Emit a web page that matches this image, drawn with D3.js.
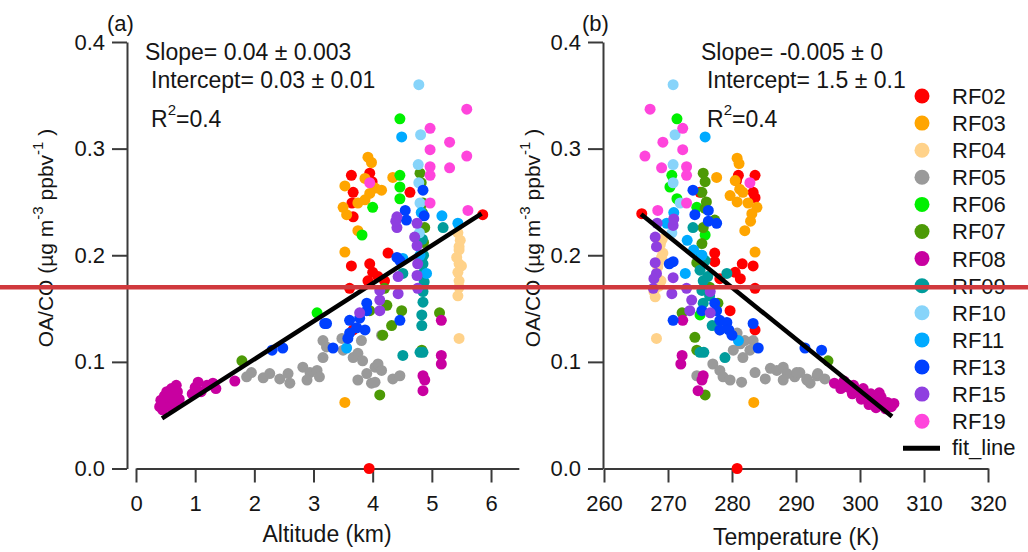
<!DOCTYPE html>
<html>
<head>
<meta charset="utf-8">
<script src="https://cdn.jsdelivr.net/npm/d3@7"></script>
<style>
  body { margin: 0; background: #fff; }
  svg { font-family: "Liberation Sans", Arial, sans-serif; }
</style>
</head>
<body>
<div id="graf"></div>
<script>
// flights and their colours
const flights = ["RF02", "RF03", "RF04", "RF05", "RF06", "RF07", "RF08", "RF09", "RF10", "RF11", "RF13", "RF15", "RF19"];
const flightColors = ["#ff0000", "#ffa500", "#ffd28a", "#9a9a9a", "#00f000", "#4c9a06", "#c800a0", "#009c9c", "#87d4fa", "#00aaff", "#0040ff", "#8f3fe0", "#ff45dc"];

// panel (a): [altitude km, OA/CO]
const RF02_alt = [[3.64,0.275],[3.95,0.277],[3.67,0.259],[3.65,0.249],[3.67,0.236],[3.99,0.269],[4.63,0.259],[4.26,0.202],[5.86,0.238],[3.64,0.19],[3.95,0.192],[4.0,0.184],[4.09,0.18],[3.92,0.176],[4.2,0.176],[3.61,0.169],[3.67,0.13],[3.94,0.0]];
const RF03_alt = [[3.92,0.292],[3.98,0.287],[3.87,0.272],[3.53,0.265],[4.04,0.263],[4.15,0.261],[3.95,0.258],[3.5,0.245],[3.75,0.249],[3.87,0.252],[3.56,0.238],[3.75,0.223],[4.34,0.273],[3.53,0.203],[3.53,0.062]];
const RF04_alt = [[5.46,0.205],[5.46,0.192],[5.5,0.19],[5.44,0.184],[5.46,0.176],[5.46,0.17],[5.44,0.162],[5.46,0.122],[5.44,0.221],[5.46,0.208],[5.48,0.214],[5.42,0.198]];
const RF05_alt = [[1.87,0.086],[1.95,0.09],[2.15,0.085],[2.26,0.089],[2.43,0.084],[2.57,0.089],[2.6,0.08],[2.82,0.095],[2.94,0.09],[2.89,0.083],[3.06,0.092],[3.1,0.086],[3.16,0.104],[3.16,0.12],[3.22,0.114],[3.48,0.122],[3.5,0.111],[3.67,0.104],[3.75,0.108],[3.81,0.12],[3.83,0.101],[3.75,0.083],[3.9,0.089],[3.98,0.08],[4.04,0.095],[4.09,0.098],[4.15,0.092],[4.15,0.125],[4.34,0.084],[4.46,0.087],[4.04,0.081]];
const RF06_alt = [[4.46,0.328],[4.46,0.275],[4.46,0.264],[4.46,0.253],[4.0,0.245],[3.82,0.219],[3.06,0.146]];
const RF07_alt = [[4.8,0.277],[4.82,0.268],[4.85,0.249],[4.88,0.226],[4.86,0.212],[4.2,0.169],[4.24,0.153],[3.95,0.148],[4.49,0.148],[4.32,0.134],[4.17,0.125],[5.13,0.146],[4.12,0.069],[4.83,0.111],[1.79,0.101],[4.84,0.24]];
const RF08_alt = [[0.40,0.058],[0.42,0.064],[0.45,0.055],[0.48,0.068],[0.5,0.061],[0.52,0.072],[0.55,0.066],[0.57,0.058],[0.6,0.075],[0.62,0.069],[0.65,0.062],[0.68,0.078],[0.7,0.072],[0.73,0.065],[0.95,0.07],[1.0,0.076],[1.05,0.081],[1.1,0.072],[1.2,0.078],[1.3,0.08],[1.35,0.075],[1.67,0.082],[5.16,0.139],[5.16,0.106],[5.16,0.098],[4.85,0.087],[4.88,0.083],[4.85,0.073]];
const RF09_alt = [[4.85,0.192],[4.85,0.183],[4.87,0.175],[4.85,0.166],[4.85,0.156],[4.83,0.144],[4.83,0.134],[4.51,0.183],[4.51,0.106],[4.8,0.109],[4.85,0.109],[5.19,0.226],[4.86,0.2],[4.84,0.215]];
const RF10_alt = [[4.78,0.36],[4.81,0.313],[4.77,0.285],[4.78,0.268],[4.8,0.249],[4.79,0.221]];
const RF11_alt = [[4.49,0.311],[5.17,0.237],[5.44,0.23],[4.51,0.197],[4.91,0.183],[3.56,0.113],[4.82,0.24],[4.8,0.2]];
const RF13_alt = [[4.85,0.261],[4.87,0.237],[4.55,0.242],[4.57,0.233],[4.41,0.198],[4.46,0.195],[3.9,0.155],[3.9,0.148],[3.78,0.141],[3.61,0.139],[3.73,0.132],[3.87,0.13],[3.61,0.127],[3.58,0.122],[3.33,0.113],[3.22,0.136],[4.46,0.139],[2.3,0.111],[2.48,0.113],[3.19,0.136]];
const RF15_alt = [[4.41,0.236],[4.41,0.226],[4.75,0.23],[4.71,0.217],[4.75,0.209],[4.39,0.232],[4.76,0.192],[4.75,0.181],[4.76,0.169],[4.43,0.18],[4.43,0.164],[4.12,0.167],[4.12,0.158],[4.12,0.148],[3.78,0.146]];
const RF19_alt = [[5.59,0.337],[4.97,0.319],[5.3,0.306],[4.97,0.299],[5.59,0.293],[4.97,0.283],[5.3,0.282],[4.97,0.275],[3.95,0.268],[4.97,0.249],[5.61,0.242]];

// panel (b): [temperature K, OA/CO]
const RF02_temp = [[265.9,0.239],[281,0.275],[283.6,0.275],[283.3,0.259],[283.6,0.254],[280.7,0.27],[277.3,0.202],[275,0.259],[277.3,0.194],[281.6,0.192],[283.3,0.19],[280.5,0.184],[281.3,0.178],[278.1,0.178],[283.6,0.169],[279.7,0.148],[283.6,0.13],[280.8,0.0]];
const RF03_temp = [[280.8,0.291],[281.1,0.286],[280.5,0.27],[279.7,0.256],[280.8,0.25],[281.7,0.259],[282.5,0.249],[283.9,0.245],[282,0.223],[283.6,0.203],[277.6,0.273],[283.1,0.239],[283.4,0.062],[281.2,0.262],[282.9,0.232]];
const RF04_temp = [[269,0.198],[268.4,0.189],[268.2,0.18],[268.6,0.171],[268,0.161],[268.2,0.122],[269.2,0.202],[268.8,0.21],[268.5,0.193],[268.9,0.176],[267.8,0.166],[269.1,0.215]];
const RF05_temp = [[274.5,0.087],[277,0.098],[278.1,0.092],[278.6,0.086],[278.1,0.13],[280.2,0.111],[280.8,0.127],[281.3,0.117],[282,0.12],[282.8,0.111],[283.3,0.12],[281.7,0.104],[279.7,0.083],[281.5,0.081],[283.6,0.09],[285.2,0.084],[286,0.094],[287,0.092],[288,0.095],[288.6,0.089],[289.8,0.086],[290.6,0.09],[291.7,0.084],[292.2,0.08],[293.3,0.087],[290.1,0.09],[291.7,0.083],[293.4,0.089],[294.5,0.084],[288,0.083]];
const RF06_temp = [[271.4,0.328],[270.6,0.275],[270.3,0.264],[271.4,0.253],[274.5,0.245],[275.8,0.219],[275,0.144]];
const RF07_temp = [[275.5,0.277],[275.8,0.269],[275.3,0.259],[275.8,0.244],[277.3,0.233],[275.3,0.211],[272.2,0.146],[274.2,0.123],[274.5,0.111],[275.8,0.069],[274.5,0.193],[295,0.101],[276.5,0.17],[277.8,0.155],[275.5,0.226],[276,0.25]];
const RF08_temp = [[296,0.08],[297.5,0.082],[298.2,0.076],[299,0.078],[299.8,0.072],[300.5,0.075],[301,0.068],[301.7,0.07],[302.2,0.066],[302.8,0.063],[303.3,0.067],[303.8,0.06],[304.3,0.062],[304.9,0.058],[305.3,0.061],[300.2,0.065],[301.4,0.06],[302.5,0.057],[303,0.071],[298.8,0.07],[297,0.075],[304,0.056],[272.3,0.139],[272.2,0.106],[272,0.098],[275.5,0.087],[275.3,0.083],[274.7,0.073]];
const RF09_temp = [[275,0.186],[275.5,0.176],[275.3,0.167],[275.5,0.155],[276.9,0.134],[278.9,0.104],[275,0.109],[275.6,0.109],[279.2,0.183],[273.9,0.226],[275.8,0.195],[276.2,0.18],[275.2,0.2],[276.5,0.162]];
const RF10_temp = [[270.8,0.36],[271.1,0.313],[270.8,0.285],[270.8,0.268],[271.9,0.249],[270.6,0.221]];
const RF11_temp = [[275.8,0.311],[273,0.214],[275.3,0.2],[272.7,0.183],[281,0.12],[270.9,0.24],[269.8,0.23],[274,0.205]];
const RF13_temp = [[273.9,0.261],[276.3,0.242],[274.2,0.238],[277.6,0.23],[270.8,0.194],[270.2,0.192],[277.3,0.155],[277.6,0.148],[278.1,0.139],[279.2,0.137],[278.1,0.13],[280,0.125],[275.3,0.148],[270.8,0.139],[283.3,0.136],[284.1,0.113],[291.4,0.113],[294,0.111],[276.3,0.232],[279.5,0.13]];
const RF15_temp = [[268.3,0.23],[270.8,0.228],[268,0.217],[268.2,0.208],[270.9,0.234],[268,0.193],[268.2,0.183],[267.8,0.178],[267.7,0.169],[270.8,0.179],[270.6,0.164],[273.7,0.158],[273.4,0.148],[276.6,0.146],[272.9,0.169],[276.6,0.166]];
const RF19_temp = [[267.2,0.337],[272.3,0.319],[269.2,0.306],[272.3,0.299],[266.4,0.293],[269,0.282],[272.9,0.283],[272.9,0.275],[282.8,0.268],[272.9,0.249],[268.4,0.242]];

const altSeries = [RF02_alt, RF03_alt, RF04_alt, RF05_alt, RF06_alt, RF07_alt, RF08_alt, RF09_alt, RF10_alt, RF11_alt, RF13_alt, RF15_alt, RF19_alt];
const tempSeries = [RF02_temp, RF03_temp, RF04_temp, RF05_temp, RF06_temp, RF07_temp, RF08_temp, RF09_temp, RF10_temp, RF11_temp, RF13_temp, RF15_temp, RF19_temp];

// fit line end points
const fitAltX = [0.44, 5.84];
const fitAltY = [0.047, 0.239];
const fitTempX = [265.8, 305.0];
const fitTempY = [0.2385, 0.0488];

// ticks
const yTicks = [0, 0.1, 0.2, 0.3, 0.4];
const altTicks = [0, 1, 2, 3, 4, 5, 6];
const tempTicks = [260, 270, 280, 290, 300, 310, 320];

const altStats = ["Slope= 0.04 \u00b1 0.003", "Intercept= 0.03 \u00b1 0.01"];
const tempStats = ["Slope= -0.005 \u00b1 0", "Intercept= 1.5 \u00b1 0.1"];

const refLevel = 0.17;

const ancho_total = 1028;
const alto_total = 552;
const txt = "#151515";
const ejes = "#3a3a3a";

const svg = d3.select("#graf")
  .append("svg")
  .attr("width", ancho_total)
  .attr("height", alto_total);

const y = d3.scaleLinear().domain([0, 0.4]).range([468.5, 42]);

function panel(cfg) {
  const x = d3.scaleLinear().domain(cfg.xDomain).range(cfg.xRange);

  const gx = svg.append("g")
    .attr("transform", `translate(0, ${y(0)})`)
    .call(d3.axisBottom(x).tickValues(cfg.xTicks).tickSize(14).tickSizeOuter(0).tickPadding(13).tickFormat(d3.format("d")));
  const gy = svg.append("g")
    .attr("transform", `translate(${cfg.yAxisX}, 0)`)
    .call(d3.axisLeft(y).tickValues(yTicks).tickSize(15).tickSizeOuter(0).tickPadding(7).tickFormat(d3.format(".1f")));

  [gx, gy].forEach((g) => {
    g.attr("font-size", null).attr("font-family", null).style("color", ejes);
    g.selectAll("path, line").attr("stroke-width", 2);
    g.selectAll("text").style("font-size", "22px").style("fill", txt);
  });

  // dots
  cfg.series.forEach((pts, i) => {
    svg.append("g")
      .selectAll("circle")
      .data(pts)
      .enter()
      .append("circle")
      .attr("class", "dot " + flights[i])
      .attr("cx", (d) => x(d[0]))
      .attr("cy", (d) => y(d[1]))
      .attr("r", 5.5)
      .style("fill", flightColors[i]);
  });

  // fit line
  svg.append("line")
    .attr("x1", x(cfg.fitX[0])).attr("y1", y(cfg.fitY[0]))
    .attr("x2", x(cfg.fitX[1])).attr("y2", y(cfg.fitY[1]))
    .attr("stroke", "#000")
    .attr("stroke-width", 4.5);

  // labels
  svg.append("text")
    .attr("x", cfg.tagX).attr("y", 31)
    .style("font-size", "22px").style("fill", txt)
    .text(cfg.tag);

  svg.append("text")
    .attr("x", cfg.statX).attr("y", 60)
    .style("font-size", "23px").style("fill", txt)
    .text(cfg.stats[0]);
  svg.append("text")
    .attr("x", cfg.statX + 6).attr("y", 88)
    .style("font-size", "23px").style("fill", txt)
    .text(cfg.stats[1]);
  const r2 = svg.append("text")
    .attr("x", cfg.statX + 6).attr("y", 127)
    .style("font-size", "23px").style("fill", txt);
  r2.append("tspan").text("R");
  r2.append("tspan").attr("dy", -12).style("font-size", "15px").text("2");
  r2.append("tspan").attr("dy", 12).text("=0.4");

  svg.append("text")
    .attr("x", cfg.titleX).attr("y", cfg.titleY)
    .attr("text-anchor", "middle")
    .style("font-size", "23px").style("fill", txt)
    .text(cfg.title);

  const yl = svg.append("text")
    .attr("transform", `translate(${cfg.yLabelX}, 238) rotate(-90)`)
    .attr("text-anchor", "middle")
    .style("font-size", "21px").style("fill", txt);
  yl.append("tspan").text("OA/CO (\u00b5g m");
  yl.append("tspan").attr("dy", -10).style("font-size", "15px").text("-3");
  yl.append("tspan").attr("dy", 10).text("  ppbv");
  yl.append("tspan").attr("dy", -10).style("font-size", "15px").text("-1");
  yl.append("tspan").attr("dy", 10).text(" )");

  return x;
}

panel({
  xDomain: [0, 6.47], xRange: [136, 136 + 6.47 * 59.17], xTicks: altTicks,
  yAxisX: 127, series: altSeries, fitX: fitAltX, fitY: fitAltY,
  tag: "(a)", tagX: 107, stats: altStats, statX: 145,
  title: "Altitude (km)", titleX: 327, titleY: 542, yLabelX: 53
});

panel({
  xDomain: [260, 320], xRange: [604, 988], xTicks: tempTicks,
  yAxisX: 603, series: tempSeries, fitX: fitTempX, fitY: fitTempY,
  tag: "(b)", tagX: 582, stats: tempStats, statX: 701,
  title: "Temperature (K)", titleX: 796, titleY: 545, yLabelX: 540
});

// legend
const legend = svg.append("g");
flights.forEach((f, i) => {
  const ly = 96 + i * 27.1;
  legend.append("circle").attr("cx", 922).attr("cy", ly).attr("r", 7.5).style("fill", flightColors[i]);
  legend.append("text").attr("x", 952).attr("y", ly).attr("dy", "0.36em")
    .style("font-size", "22px").style("fill", txt).text(f);
});
const lyFit = 96 + flights.length * 27.1;
legend.append("line").attr("x1", 903).attr("x2", 940).attr("y1", lyFit).attr("y2", lyFit)
  .attr("stroke", "#000").attr("stroke-width", 5);
legend.append("text").attr("x", 952).attr("y", lyFit).attr("dy", "0.3em")
  .style("font-size", "22px").style("fill", txt).text("fit_line");

// horizontal reference line across the whole figure
svg.append("line")
  .attr("x1", 0).attr("x2", ancho_total)
  .attr("y1", y(refLevel)).attr("y2", y(refLevel))
  .attr("stroke", "#d0393d")
  .attr("stroke-width", 4.5);
</script>
</body>
</html>
